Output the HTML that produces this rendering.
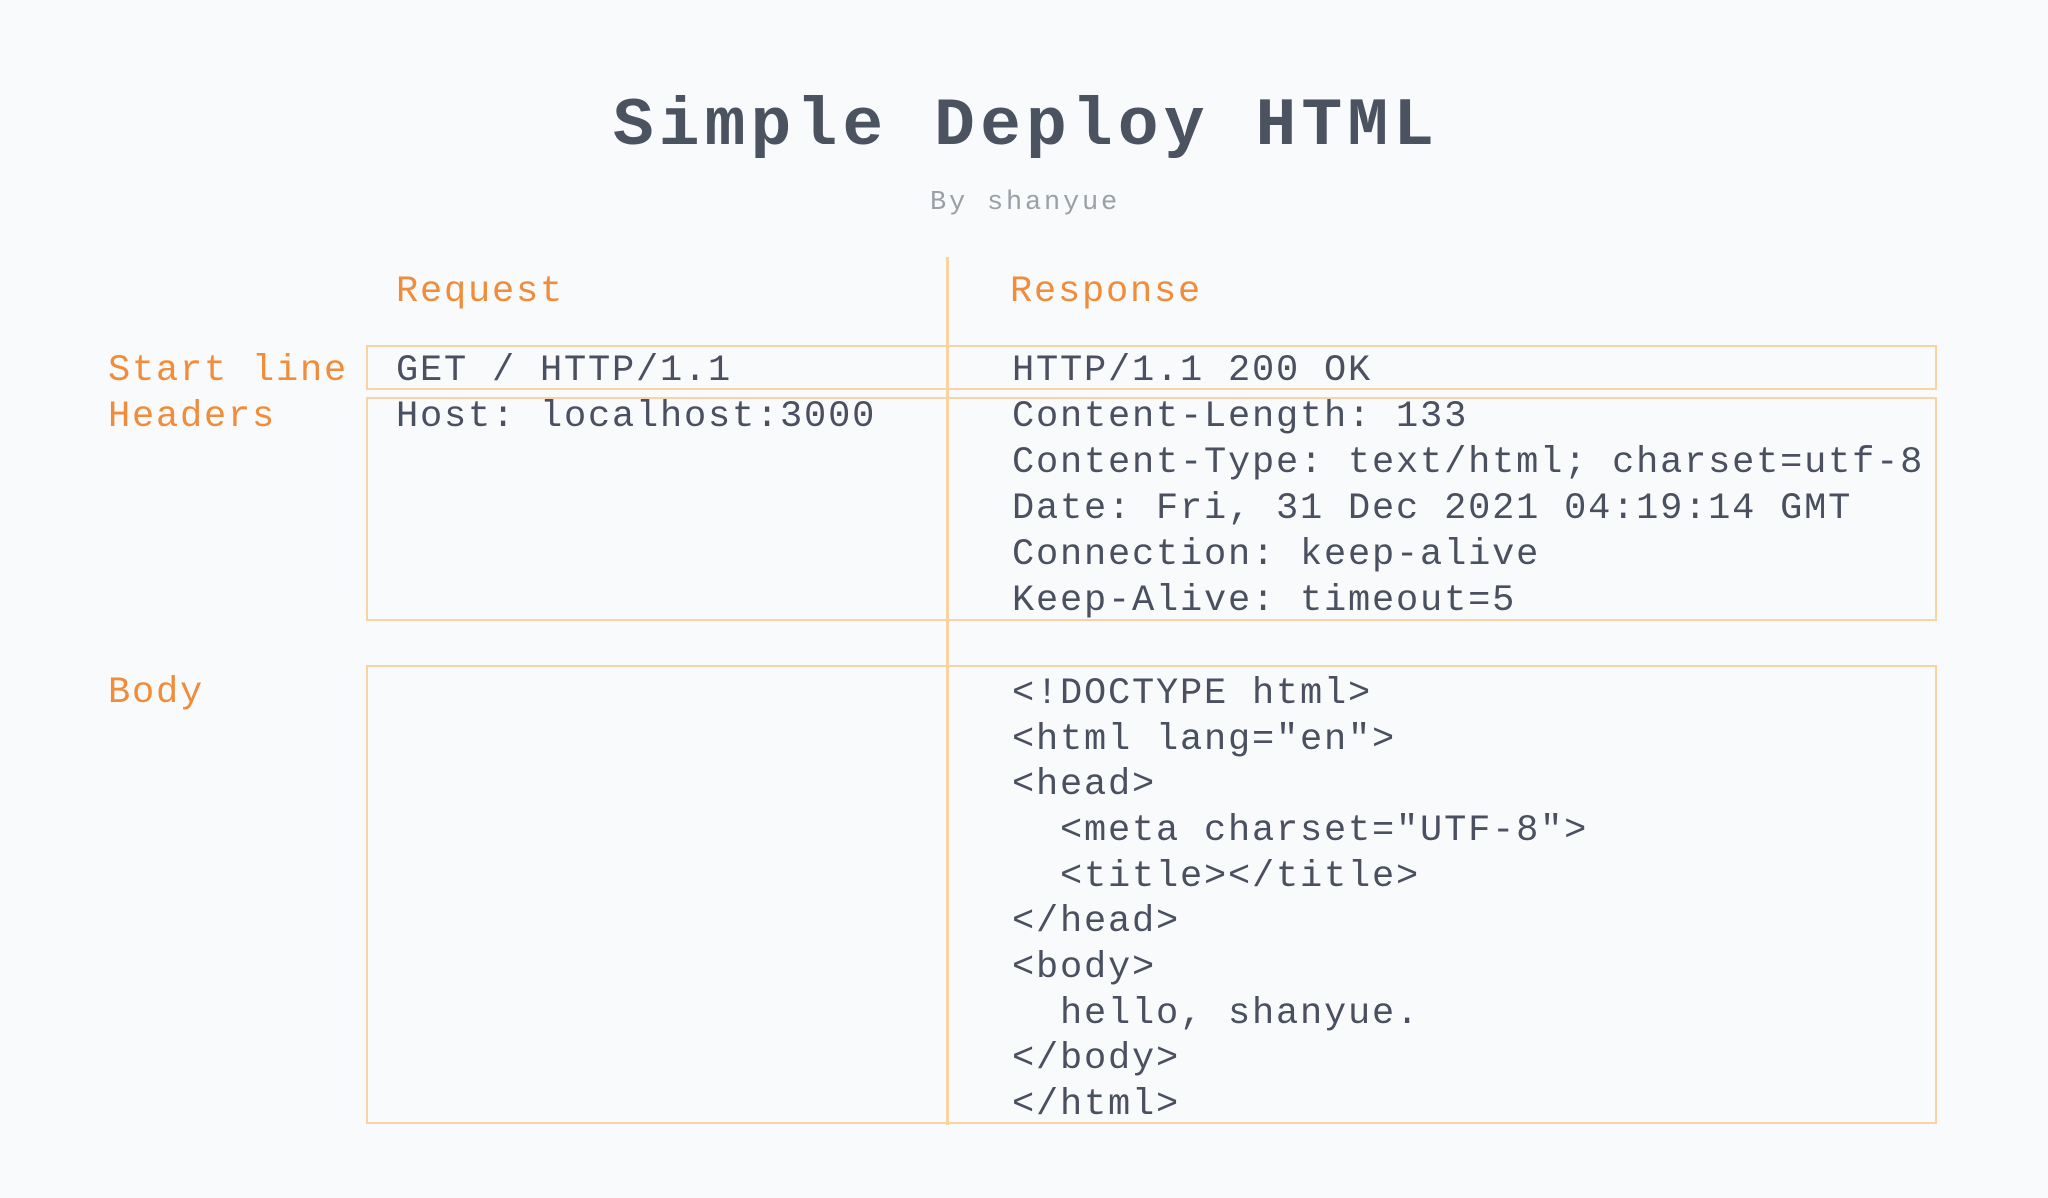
<!DOCTYPE html>
<html><head><meta charset="utf-8"><style>
html,body{margin:0;padding:0;background:#f8fafc;}
body{width:2048px;height:1198px;position:relative;overflow:hidden;font-family:"Liberation Mono",monospace;}
.t{position:absolute;white-space:pre;line-height:46px;height:46px;}
.c{color:#4a5060;font-size:37px;letter-spacing:1.8px;}
.o{color:#f08c3a;font-size:37px;letter-spacing:1.8px;}
.b{position:absolute;border:2px solid #f9d3a4;box-sizing:border-box;}
</style></head><body>
<div class="t" style="left:0;width:2052px;text-align:center;top:87px;height:80px;line-height:80px;font-size:68px;font-weight:bold;letter-spacing:5.1px;color:#4b5260;">Simple Deploy HTML</div>
<div class="t" style="left:0;width:2050px;text-align:center;top:185px;height:36px;line-height:36px;font-size:27px;letter-spacing:2.8px;color:#9ba0a6;">By shanyue</div>

<div class="b" style="left:366px;top:345px;width:1571px;height:45px;"></div>
<div class="b" style="left:366px;top:397px;width:1571px;height:224px;"></div>
<div class="b" style="left:366px;top:665px;width:1571px;height:459px;"></div>
<div style="position:absolute;left:946px;top:257px;width:3px;height:868px;background:#f9d3a4;"></div>

<div class="t o" style="left:396px;top:269px;">Request</div>
<div class="t o" style="left:1010px;top:269px;">Response</div>
<div class="t o" style="left:108px;top:348px;">Start line</div>
<div class="t o" style="left:108px;top:394px;">Headers</div>
<div class="t o" style="left:108px;top:670px;">Body</div>

<div class="t c" style="left:396px;top:348px;">GET / HTTP/1.1</div>
<div class="t c" style="left:396px;top:394px;">Host: localhost:3000</div>
<div class="t c" style="left:1012px;top:348px;">HTTP/1.1 200 OK</div>
<div class="t c" style="left:1012px;top:394px;">Content-Length: 133</div>
<div class="t c" style="left:1012px;top:440px;">Content-Type: text/html; charset=utf-8</div>
<div class="t c" style="left:1012px;top:486px;">Date: Fri, 31 Dec 2021 04:19:14 GMT</div>
<div class="t c" style="left:1012px;top:532px;">Connection: keep-alive</div>
<div class="t c" style="left:1012px;top:578px;">Keep-Alive: timeout=5</div>

<div class="t c" style="left:1012px;top:671px;">&lt;!DOCTYPE html&gt;</div>
<div class="t c" style="left:1012px;top:717px;">&lt;html lang="en"&gt;</div>
<div class="t c" style="left:1012px;top:762px;">&lt;head&gt;</div>
<div class="t c" style="left:1012px;top:808px;">  &lt;meta charset="UTF-8"&gt;</div>
<div class="t c" style="left:1012px;top:854px;">  &lt;title&gt;&lt;/title&gt;</div>
<div class="t c" style="left:1012px;top:899px;">&lt;/head&gt;</div>
<div class="t c" style="left:1012px;top:945px;">&lt;body&gt;</div>
<div class="t c" style="left:1012px;top:991px;">  hello, shanyue.</div>
<div class="t c" style="left:1012px;top:1036px;">&lt;/body&gt;</div>
<div class="t c" style="left:1012px;top:1082px;">&lt;/html&gt;</div>
</body></html>
